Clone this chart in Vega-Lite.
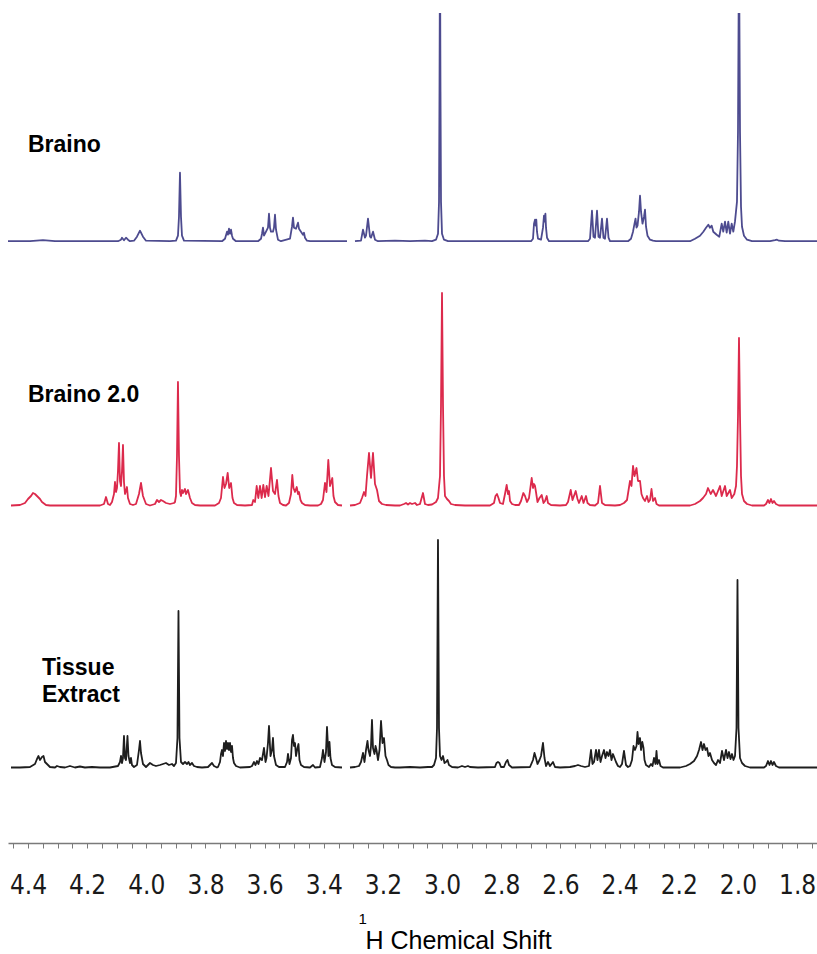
{
"$schema": "https://vega.github.io/schema/vega-lite/v6.json",
"padding": {"left": 8, "top": 13, "right": 0, "bottom": 0},
"background": "white",
"spacing": 0,
"bounds": "flush",
"config": {"view": {"stroke": null}, "axis": {"grid": false}},
"datasets": {
"braino": [
{"seg":"a","ppm":4.4677,"i":0.5},{"seg":"a","ppm":4.3933,"i":0.5},{"seg":"a","ppm":4.3494,"i":1.5},{"seg":"a","ppm":4.3088,"i":0.5},{"seg":"a","ppm":4.1566,"i":0.5},{"seg":"a","ppm":4.0958,"i":0.5},{"seg":"a","ppm":4.0856,"i":2},{"seg":"a","ppm":4.0822,"i":4},{"seg":"a","ppm":4.0755,"i":1.5},{"seg":"a","ppm":4.0687,"i":4},{"seg":"a","ppm":4.062,"i":2},{"seg":"a","ppm":4.0552,"i":0.5},{"seg":"a","ppm":4.0417,"i":1},{"seg":"a","ppm":4.0316,"i":5},{"seg":"a","ppm":4.0214,"i":11},{"seg":"a","ppm":4.0113,"i":5},{"seg":"a","ppm":4.0011,"i":1},{"seg":"a","ppm":3.92,"i":0.5},{"seg":"a","ppm":3.8997,"i":1},{"seg":"a","ppm":3.893,"i":6},{"seg":"a","ppm":3.8896,"i":25},{"seg":"a","ppm":3.8862,"i":69},{"seg":"a","ppm":3.8828,"i":25},{"seg":"a","ppm":3.8794,"i":6},{"seg":"a","ppm":3.8727,"i":1},
{"seg":"a","ppm":3.7441,"i":0.5},{"seg":"a","ppm":3.734,"i":3},{"seg":"a","ppm":3.7272,"i":10},{"seg":"a","ppm":3.7239,"i":7},{"seg":"a","ppm":3.7205,"i":13},{"seg":"a","ppm":3.7171,"i":8},{"seg":"a","ppm":3.7137,"i":12},{"seg":"a","ppm":3.7103,"i":6},{"seg":"a","ppm":3.707,"i":3},{"seg":"a","ppm":3.6968,"i":0.5},
{"seg":"a","ppm":3.6225,"i":0.5},{"seg":"a","ppm":3.6123,"i":3},{"seg":"a","ppm":3.6089,"i":8},{"seg":"a","ppm":3.6056,"i":14},{"seg":"a","ppm":3.6022,"i":6},{"seg":"a","ppm":3.5954,"i":10},{"seg":"a","ppm":3.5887,"i":14},{"seg":"a","ppm":3.5853,"i":28},{"seg":"a","ppm":3.5819,"i":14},{"seg":"a","ppm":3.5785,"i":10},{"seg":"a","ppm":3.5718,"i":10},{"seg":"a","ppm":3.5684,"i":14},{"seg":"a","ppm":3.565,"i":27},{"seg":"a","ppm":3.5616,"i":12},{"seg":"a","ppm":3.5549,"i":2},{"seg":"a","ppm":3.5447,"i":0.5},
{"seg":"a","ppm":3.5143,"i":3},{"seg":"a","ppm":3.5075,"i":15},{"seg":"a","ppm":3.5042,"i":24},{"seg":"a","ppm":3.5008,"i":14},{"seg":"a","ppm":3.494,"i":13},{"seg":"a","ppm":3.4872,"i":19},{"seg":"a","ppm":3.4839,"i":13},{"seg":"a","ppm":3.4771,"i":10},{"seg":"a","ppm":3.4704,"i":7},{"seg":"a","ppm":3.467,"i":9},{"seg":"a","ppm":3.4636,"i":4},{"seg":"a","ppm":3.4568,"i":1},{"seg":"a","ppm":3.4467,"i":0.5},{"seg":"a","ppm":3.4129,"i":0.5},{"seg":"a","ppm":3.3216,"i":0.5},
{"seg":"b","ppm":3.2946,"i":0.5},{"seg":"b","ppm":3.2743,"i":1},{"seg":"b","ppm":3.2675,"i":12},{"seg":"b","ppm":3.2607,"i":4},{"seg":"b","ppm":3.2573,"i":6},{"seg":"b","ppm":3.2506,"i":23},{"seg":"b","ppm":3.2438,"i":5},{"seg":"b","ppm":3.2404,"i":4},{"seg":"b","ppm":3.2336,"i":10},{"seg":"b","ppm":3.2269,"i":2},{"seg":"b","ppm":3.2168,"i":0.5},{"seg":"b","ppm":3.1593,"i":1},{"seg":"b","ppm":3.1086,"i":0.5},{"seg":"b","ppm":3.0579,"i":1},{"seg":"b","ppm":3.0342,"i":0.5},{"seg":"b","ppm":3.0207,"i":2},{"seg":"b","ppm":3.0139,"i":8},{"seg":"b","ppm":3.0105,"i":40},{"seg":"b","ppm":3.0089,"i":150},{"seg":"b","ppm":3.0072,"i":300},{"seg":"b","ppm":3.0055,"i":150},{"seg":"b","ppm":3.0038,"i":40},{"seg":"b","ppm":3.0004,"i":8},{"seg":"b","ppm":2.9937,"i":2},{"seg":"b","ppm":2.9801,"i":0.5},{"seg":"b","ppm":2.9058,"i":0.5},{"seg":"b","ppm":2.8044,"i":0.5},{"seg":"b","ppm":2.7198,"i":0.5},
{"seg":"b","ppm":2.6995,"i":0.5},{"seg":"b","ppm":2.6928,"i":3},{"seg":"b","ppm":2.6894,"i":18},{"seg":"b","ppm":2.686,"i":22},{"seg":"b","ppm":2.6836,"i":16},{"seg":"b","ppm":2.6816,"i":22},{"seg":"b","ppm":2.6793,"i":10},{"seg":"b","ppm":2.6759,"i":3},{"seg":"b","ppm":2.6657,"i":2},{"seg":"b","ppm":2.659,"i":14},{"seg":"b","ppm":2.6556,"i":26},{"seg":"b","ppm":2.6532,"i":20},{"seg":"b","ppm":2.6508,"i":28},{"seg":"b","ppm":2.6488,"i":14},{"seg":"b","ppm":2.6454,"i":4},{"seg":"b","ppm":2.6386,"i":0.5},
{"seg":"b","ppm":2.5069,"i":0.5},{"seg":"b","ppm":2.5001,"i":3},{"seg":"b","ppm":2.4934,"i":31},{"seg":"b","ppm":2.4883,"i":5},{"seg":"b","ppm":2.4832,"i":4},{"seg":"b","ppm":2.4764,"i":31},{"seg":"b","ppm":2.4714,"i":5},{"seg":"b","ppm":2.4663,"i":4},{"seg":"b","ppm":2.4595,"i":23},{"seg":"b","ppm":2.4545,"i":4},{"seg":"b","ppm":2.4494,"i":3},{"seg":"b","ppm":2.4426,"i":23},{"seg":"b","ppm":2.4375,"i":4},{"seg":"b","ppm":2.4325,"i":0.5},
{"seg":"b","ppm":2.3716,"i":0.5},{"seg":"b","ppm":2.3615,"i":3},{"seg":"b","ppm":2.3547,"i":10},{"seg":"b","ppm":2.3496,"i":18},{"seg":"b","ppm":2.3462,"i":23},{"seg":"b","ppm":2.3428,"i":14},{"seg":"b","ppm":2.3394,"i":16},{"seg":"b","ppm":2.3344,"i":30},{"seg":"b","ppm":2.331,"i":46},{"seg":"b","ppm":2.3276,"i":30},{"seg":"b","ppm":2.3226,"i":18},{"seg":"b","ppm":2.3175,"i":25},{"seg":"b","ppm":2.3141,"i":32},{"seg":"b","ppm":2.3107,"i":15},{"seg":"b","ppm":2.3057,"i":6},{"seg":"b","ppm":2.2972,"i":2},{"seg":"b","ppm":2.2871,"i":1},{"seg":"b","ppm":2.277,"i":0.5},
{"seg":"b","ppm":2.162,"i":0.5},{"seg":"b","ppm":2.1451,"i":3},{"seg":"b","ppm":2.1282,"i":6},{"seg":"b","ppm":2.117,"i":10},{"seg":"b","ppm":2.1079,"i":14},{"seg":"b","ppm":2.1001,"i":17},{"seg":"b","ppm":2.0944,"i":14},{"seg":"b","ppm":2.0887,"i":16},{"seg":"b","ppm":2.0833,"i":10},{"seg":"b","ppm":2.0718,"i":7},{"seg":"b","ppm":2.063,"i":5},{"seg":"b","ppm":2.0549,"i":18},{"seg":"b","ppm":2.0495,"i":10},{"seg":"b","ppm":2.0437,"i":20},{"seg":"b","ppm":2.038,"i":9},{"seg":"b","ppm":2.0326,"i":20},{"seg":"b","ppm":2.0268,"i":8},{"seg":"b","ppm":2.0211,"i":18},{"seg":"b","ppm":2.0156,"i":10},{"seg":"b","ppm":2.01,"i":20},{"seg":"b","ppm":2.0032,"i":40},{"seg":"b","ppm":1.9998,"i":110},{"seg":"b","ppm":1.9964,"i":300},{"seg":"b","ppm":1.993,"i":110},{"seg":"b","ppm":1.9896,"i":35},{"seg":"b","ppm":1.9862,"i":15},{"seg":"b","ppm":1.9795,"i":6},{"seg":"b","ppm":1.9693,"i":2},{"seg":"b","ppm":1.9524,"i":0.5},{"seg":"b","ppm":1.8916,"i":0.5},{"seg":"b","ppm":1.8747,"i":1.5},{"seg":"b","ppm":1.8679,"i":2},{"seg":"b","ppm":1.8612,"i":1},{"seg":"b","ppm":1.8409,"i":0.5},{"seg":"b","ppm":1.7327,"i":0.5}
],
"braino2": [
{"seg":"a","ppm":4.4575,"i":0.5},{"seg":"a","ppm":4.4271,"i":1},{"seg":"a","ppm":4.4102,"i":3},{"seg":"a","ppm":4.4,"i":7},{"seg":"a","ppm":4.3899,"i":10},{"seg":"a","ppm":4.3831,"i":13},{"seg":"a","ppm":4.3764,"i":12},{"seg":"a","ppm":4.3696,"i":10},{"seg":"a","ppm":4.3595,"i":7},{"seg":"a","ppm":4.3527,"i":4},{"seg":"a","ppm":4.3392,"i":1},{"seg":"a","ppm":4.3257,"i":0.5},{"seg":"a","ppm":4.1566,"i":0.5},{"seg":"a","ppm":4.1431,"i":2},{"seg":"a","ppm":4.1363,"i":9},{"seg":"a","ppm":4.1296,"i":2},{"seg":"a","ppm":4.1228,"i":1},{"seg":"a","ppm":4.1161,"i":4},{"seg":"a","ppm":4.1093,"i":12},{"seg":"a","ppm":4.1059,"i":24},{"seg":"a","ppm":4.1025,"i":14},{"seg":"a","ppm":4.0991,"i":18},{"seg":"a","ppm":4.0958,"i":35},{"seg":"a","ppm":4.0924,"i":63},{"seg":"a","ppm":4.089,"i":25},{"seg":"a","ppm":4.0856,"i":20},{"seg":"a","ppm":4.0822,"i":35},{"seg":"a","ppm":4.0789,"i":61},{"seg":"a","ppm":4.0755,"i":24},{"seg":"a","ppm":4.0721,"i":12},{"seg":"a","ppm":4.0687,"i":15},{"seg":"a","ppm":4.0654,"i":19},{"seg":"a","ppm":4.062,"i":8},{"seg":"a","ppm":4.0552,"i":2},{"seg":"a","ppm":4.0451,"i":1},{"seg":"a","ppm":4.0349,"i":2},{"seg":"a","ppm":4.0248,"i":12},{"seg":"a","ppm":4.018,"i":23},{"seg":"a","ppm":4.0113,"i":10},{"seg":"a","ppm":4.0011,"i":2},{"seg":"a","ppm":3.9876,"i":0.5},{"seg":"a","ppm":3.9707,"i":2},{"seg":"a","ppm":3.9639,"i":6},{"seg":"a","ppm":3.9572,"i":4},{"seg":"a","ppm":3.9504,"i":6},{"seg":"a","ppm":3.9437,"i":5},{"seg":"a","ppm":3.9335,"i":3},{"seg":"a","ppm":3.92,"i":2},{"seg":"a","ppm":3.9065,"i":3},{"seg":"a","ppm":3.9031,"i":4},{"seg":"a","ppm":3.8997,"i":10},{"seg":"a","ppm":3.8963,"i":50},{"seg":"a","ppm":3.893,"i":124},{"seg":"a","ppm":3.8896,"i":50},{"seg":"a","ppm":3.8862,"i":14},{"seg":"a","ppm":3.8828,"i":10},{"seg":"a","ppm":3.8794,"i":16},{"seg":"a","ppm":3.876,"i":13},{"seg":"a","ppm":3.8693,"i":17},{"seg":"a","ppm":3.8659,"i":12},{"seg":"a","ppm":3.8591,"i":16},{"seg":"a","ppm":3.8524,"i":8},{"seg":"a","ppm":3.8456,"i":3},{"seg":"a","ppm":3.8355,"i":1},{"seg":"a","ppm":3.8186,"i":0.5},
{"seg":"a","ppm":3.7679,"i":0.5},{"seg":"a","ppm":3.7543,"i":3},{"seg":"a","ppm":3.7476,"i":8},{"seg":"a","ppm":3.7408,"i":29},{"seg":"a","ppm":3.7358,"i":18},{"seg":"a","ppm":3.7307,"i":22},{"seg":"a","ppm":3.7249,"i":33},{"seg":"a","ppm":3.7198,"i":18},{"seg":"a","ppm":3.7137,"i":23},{"seg":"a","ppm":3.7087,"i":8},{"seg":"a","ppm":3.7036,"i":3},{"seg":"a","ppm":3.6934,"i":1},{"seg":"a","ppm":3.6664,"i":0.5},
{"seg":"a","ppm":3.6428,"i":1},{"seg":"a","ppm":3.6384,"i":6},{"seg":"a","ppm":3.6326,"i":4},{"seg":"a","ppm":3.6269,"i":20},{"seg":"a","ppm":3.6215,"i":8},{"seg":"a","ppm":3.6157,"i":20},{"seg":"a","ppm":3.61,"i":8},{"seg":"a","ppm":3.6046,"i":21},{"seg":"a","ppm":3.5988,"i":9},{"seg":"a","ppm":3.5931,"i":20},{"seg":"a","ppm":3.587,"i":10},{"seg":"a","ppm":3.5785,"i":38},{"seg":"a","ppm":3.5718,"i":15},{"seg":"a","ppm":3.565,"i":12},{"seg":"a","ppm":3.5582,"i":26},{"seg":"a","ppm":3.5532,"i":10},{"seg":"a","ppm":3.5481,"i":3},{"seg":"a","ppm":3.538,"i":1},{"seg":"a","ppm":3.5278,"i":0.5},
{"seg":"a","ppm":3.5177,"i":3},{"seg":"a","ppm":3.5109,"i":12},{"seg":"a","ppm":3.5065,"i":31},{"seg":"a","ppm":3.5025,"i":18},{"seg":"a","ppm":3.4974,"i":14},{"seg":"a","ppm":3.4916,"i":19},{"seg":"a","ppm":3.4872,"i":12},{"seg":"a","ppm":3.4839,"i":14},{"seg":"a","ppm":3.4788,"i":6},{"seg":"a","ppm":3.4737,"i":3},{"seg":"a","ppm":3.4636,"i":1},{"seg":"a","ppm":3.4467,"i":0.5},{"seg":"a","ppm":3.4197,"i":0.5},{"seg":"a","ppm":3.4095,"i":2},{"seg":"a","ppm":3.4028,"i":6},{"seg":"a","ppm":3.396,"i":23},{"seg":"a","ppm":3.3909,"i":14},{"seg":"a","ppm":3.3848,"i":46},{"seg":"a","ppm":3.3791,"i":20},{"seg":"a","ppm":3.3713,"i":28},{"seg":"a","ppm":3.3673,"i":10},{"seg":"a","ppm":3.3622,"i":4},{"seg":"a","ppm":3.352,"i":1},{"seg":"a","ppm":3.3385,"i":0.5},
{"seg":"b","ppm":3.3115,"i":0.5},{"seg":"b","ppm":3.2946,"i":1},{"seg":"b","ppm":3.2776,"i":3},{"seg":"b","ppm":3.2709,"i":8},{"seg":"b","ppm":3.2641,"i":14},{"seg":"b","ppm":3.259,"i":10},{"seg":"b","ppm":3.254,"i":30},{"seg":"b","ppm":3.2472,"i":53},{"seg":"b","ppm":3.2404,"i":28},{"seg":"b","ppm":3.2337,"i":53},{"seg":"b","ppm":3.2269,"i":22},{"seg":"b","ppm":3.2201,"i":16},{"seg":"b","ppm":3.2134,"i":5},{"seg":"b","ppm":3.2032,"i":2},{"seg":"b","ppm":3.1897,"i":1},{"seg":"b","ppm":3.1593,"i":0.5},{"seg":"b","ppm":3.1424,"i":0.5},{"seg":"b","ppm":3.1289,"i":2},{"seg":"b","ppm":3.1221,"i":3},{"seg":"b","ppm":3.1154,"i":1.5},{"seg":"b","ppm":3.1086,"i":3},{"seg":"b","ppm":3.1018,"i":2},{"seg":"b","ppm":3.0917,"i":3},{"seg":"b","ppm":3.0849,"i":1},{"seg":"b","ppm":3.0748,"i":2},{"seg":"b","ppm":3.0647,"i":13},{"seg":"b","ppm":3.0579,"i":2},{"seg":"b","ppm":3.0478,"i":1},{"seg":"b","ppm":3.0342,"i":1.5},{"seg":"b","ppm":3.0207,"i":4},{"seg":"b","ppm":3.014,"i":8},{"seg":"b","ppm":3.0072,"i":30},{"seg":"b","ppm":3.0038,"i":100},{"seg":"b","ppm":3.0004,"i":213},{"seg":"b","ppm":2.997,"i":100},{"seg":"b","ppm":2.9937,"i":30},{"seg":"b","ppm":2.9903,"i":10},{"seg":"b","ppm":2.9835,"i":7},{"seg":"b","ppm":2.9768,"i":5},{"seg":"b","ppm":2.97,"i":2},{"seg":"b","ppm":2.9565,"i":1},{"seg":"b","ppm":2.9227,"i":0.5},
{"seg":"b","ppm":2.8382,"i":0.5},{"seg":"b","ppm":2.8247,"i":3},{"seg":"b","ppm":2.8196,"i":10},{"seg":"b","ppm":2.8145,"i":12},{"seg":"b","ppm":2.8095,"i":8},{"seg":"b","ppm":2.8044,"i":3},{"seg":"b","ppm":2.7943,"i":2},{"seg":"b","ppm":2.7875,"i":12},{"seg":"b","ppm":2.7818,"i":21},{"seg":"b","ppm":2.7773,"i":12},{"seg":"b","ppm":2.7739,"i":15},{"seg":"b","ppm":2.7705,"i":5},{"seg":"b","ppm":2.7638,"i":2},{"seg":"b","ppm":2.7536,"i":1},{"seg":"b","ppm":2.7401,"i":1},{"seg":"b","ppm":2.7333,"i":5},{"seg":"b","ppm":2.7255,"i":13},{"seg":"b","ppm":2.7198,"i":10},{"seg":"b","ppm":2.7131,"i":4},{"seg":"b","ppm":2.7063,"i":8},{"seg":"b","ppm":2.6972,"i":28},{"seg":"b","ppm":2.6928,"i":18},{"seg":"b","ppm":2.6894,"i":22},{"seg":"b","ppm":2.686,"i":20},{"seg":"b","ppm":2.6827,"i":14},{"seg":"b","ppm":2.6776,"i":4},{"seg":"b","ppm":2.6708,"i":8},{"seg":"b","ppm":2.6634,"i":11},{"seg":"b","ppm":2.6573,"i":3},{"seg":"b","ppm":2.6522,"i":5},{"seg":"b","ppm":2.6465,"i":10},{"seg":"b","ppm":2.6421,"i":3},{"seg":"b","ppm":2.632,"i":1},{"seg":"b","ppm":2.6015,"i":0.5},
{"seg":"b","ppm":2.5812,"i":1},{"seg":"b","ppm":2.5745,"i":4},{"seg":"b","ppm":2.5653,"i":16},{"seg":"b","ppm":2.5592,"i":6},{"seg":"b","ppm":2.5484,"i":15},{"seg":"b","ppm":2.5423,"i":7},{"seg":"b","ppm":2.5373,"i":3},{"seg":"b","ppm":2.5281,"i":10},{"seg":"b","ppm":2.522,"i":3},{"seg":"b","ppm":2.5136,"i":10},{"seg":"b","ppm":2.5085,"i":3},{"seg":"b","ppm":2.5001,"i":1},{"seg":"b","ppm":2.4832,"i":0.5},{"seg":"b","ppm":2.4731,"i":3},{"seg":"b","ppm":2.4663,"i":20},{"seg":"b","ppm":2.4595,"i":3},{"seg":"b","ppm":2.4494,"i":1},{"seg":"b","ppm":2.4156,"i":0.5},{"seg":"b","ppm":2.3987,"i":1},{"seg":"b","ppm":2.3852,"i":3},{"seg":"b","ppm":2.375,"i":6},{"seg":"b","ppm":2.3649,"i":25},{"seg":"b","ppm":2.3598,"i":20},{"seg":"b","ppm":2.3547,"i":40},{"seg":"b","ppm":2.3496,"i":30},{"seg":"b","ppm":2.3429,"i":38},{"seg":"b","ppm":2.3378,"i":25},{"seg":"b","ppm":2.331,"i":25},{"seg":"b","ppm":2.326,"i":12},{"seg":"b","ppm":2.3209,"i":8},{"seg":"b","ppm":2.3141,"i":5},{"seg":"b","ppm":2.3074,"i":10},{"seg":"b","ppm":2.3023,"i":4},{"seg":"b","ppm":2.2972,"i":6},{"seg":"b","ppm":2.2922,"i":17},{"seg":"b","ppm":2.2871,"i":5},{"seg":"b","ppm":2.2803,"i":8},{"seg":"b","ppm":2.2752,"i":2},{"seg":"b","ppm":2.2668,"i":0.5},
{"seg":"b","ppm":2.162,"i":0.5},{"seg":"b","ppm":2.1451,"i":2},{"seg":"b","ppm":2.1282,"i":5},{"seg":"b","ppm":2.1181,"i":8},{"seg":"b","ppm":2.1079,"i":12},{"seg":"b","ppm":2.1012,"i":18},{"seg":"b","ppm":2.092,"i":12},{"seg":"b","ppm":2.0843,"i":16},{"seg":"b","ppm":2.0741,"i":10},{"seg":"b","ppm":2.0606,"i":20},{"seg":"b","ppm":2.0549,"i":10},{"seg":"b","ppm":2.0437,"i":20},{"seg":"b","ppm":2.038,"i":10},{"seg":"b","ppm":2.0268,"i":16},{"seg":"b","ppm":2.0211,"i":8},{"seg":"b","ppm":2.0123,"i":12},{"seg":"b","ppm":2.0065,"i":20},{"seg":"b","ppm":2.0032,"i":40},{"seg":"b","ppm":1.9998,"i":90},{"seg":"b","ppm":1.9964,"i":168},{"seg":"b","ppm":1.993,"i":90},{"seg":"b","ppm":1.9896,"i":30},{"seg":"b","ppm":1.9862,"i":12},{"seg":"b","ppm":1.9795,"i":5},{"seg":"b","ppm":1.9693,"i":2},{"seg":"b","ppm":1.9524,"i":0.5},{"seg":"b","ppm":1.9119,"i":0.5},{"seg":"b","ppm":1.9051,"i":2},{"seg":"b","ppm":1.8984,"i":6},{"seg":"b","ppm":1.8933,"i":3},{"seg":"b","ppm":1.8882,"i":7},{"seg":"b","ppm":1.8832,"i":3},{"seg":"b","ppm":1.8781,"i":5},{"seg":"b","ppm":1.8714,"i":2},{"seg":"b","ppm":1.8612,"i":0.5},{"seg":"b","ppm":1.7327,"i":0.5}
],
"tissue": [
{"seg":"a","ppm":4.4575,"i":0.5},{"seg":"a","ppm":4.4271,"i":0.5},{"seg":"a","ppm":4.3933,"i":1},{"seg":"a","ppm":4.3764,"i":4},{"seg":"a","ppm":4.3696,"i":9},{"seg":"a","ppm":4.3645,"i":12},{"seg":"a","ppm":4.3595,"i":8},{"seg":"a","ppm":4.3527,"i":11},{"seg":"a","ppm":4.3476,"i":12},{"seg":"a","ppm":4.3426,"i":6},{"seg":"a","ppm":4.3358,"i":4},{"seg":"a","ppm":4.3257,"i":1},{"seg":"a","ppm":4.3088,"i":0.5},{"seg":"a","ppm":4.302,"i":2},{"seg":"a","ppm":4.2919,"i":1},{"seg":"a","ppm":4.275,"i":0.5},{"seg":"a","ppm":4.2581,"i":2},{"seg":"a","ppm":4.2412,"i":0.5},{"seg":"a","ppm":4.2243,"i":1.5},{"seg":"a","ppm":4.2074,"i":0.5},{"seg":"a","ppm":4.1837,"i":1},{"seg":"a","ppm":4.1566,"i":0.5},{"seg":"a","ppm":4.1228,"i":0.5},{"seg":"a","ppm":4.0958,"i":2},{"seg":"a","ppm":4.089,"i":6},{"seg":"a","ppm":4.0856,"i":12},{"seg":"a","ppm":4.0822,"i":5},{"seg":"a","ppm":4.0789,"i":10},{"seg":"a","ppm":4.0755,"i":32},{"seg":"a","ppm":4.0721,"i":10},{"seg":"a","ppm":4.0687,"i":8},{"seg":"a","ppm":4.0637,"i":32},{"seg":"a","ppm":4.0603,"i":12},{"seg":"a","ppm":4.0552,"i":5},{"seg":"a","ppm":4.0518,"i":10},{"seg":"a","ppm":4.0485,"i":3},{"seg":"a","ppm":4.0417,"i":1},{"seg":"a","ppm":4.0316,"i":3},{"seg":"a","ppm":4.0248,"i":18},{"seg":"a","ppm":4.0214,"i":27},{"seg":"a","ppm":4.018,"i":15},{"seg":"a","ppm":4.0113,"i":4},{"seg":"a","ppm":4.0011,"i":1},{"seg":"a","ppm":3.9876,"i":5},{"seg":"a","ppm":3.9775,"i":3},{"seg":"a","ppm":3.9673,"i":2},{"seg":"a","ppm":3.9538,"i":3},{"seg":"a","ppm":3.9437,"i":4},{"seg":"a","ppm":3.9335,"i":5},{"seg":"a","ppm":3.9234,"i":3},{"seg":"a","ppm":3.9133,"i":4},{"seg":"a","ppm":3.9065,"i":2},{"seg":"a","ppm":3.8997,"i":5},{"seg":"a","ppm":3.8947,"i":30},{"seg":"a","ppm":3.8913,"i":157},{"seg":"a","ppm":3.8879,"i":30},{"seg":"a","ppm":3.8828,"i":6},{"seg":"a","ppm":3.876,"i":4},{"seg":"a","ppm":3.8693,"i":6},{"seg":"a","ppm":3.8625,"i":4},{"seg":"a","ppm":3.8575,"i":6},{"seg":"a","ppm":3.8524,"i":3},{"seg":"a","ppm":3.8456,"i":5},{"seg":"a","ppm":3.8389,"i":2},{"seg":"a","ppm":3.8287,"i":1},{"seg":"a","ppm":3.8118,"i":0.5},{"seg":"a","ppm":3.7915,"i":1},{"seg":"a","ppm":3.7848,"i":3},{"seg":"a","ppm":3.778,"i":5},{"seg":"a","ppm":3.7712,"i":2},{"seg":"a","ppm":3.7611,"i":0.5},
{"seg":"a","ppm":3.7577,"i":1},{"seg":"a","ppm":3.7509,"i":6},{"seg":"a","ppm":3.7475,"i":14},{"seg":"a","ppm":3.7442,"i":18},{"seg":"a","ppm":3.7408,"i":12},{"seg":"a","ppm":3.7374,"i":25},{"seg":"a","ppm":3.734,"i":17},{"seg":"a","ppm":3.7306,"i":27},{"seg":"a","ppm":3.7273,"i":19},{"seg":"a","ppm":3.7239,"i":25},{"seg":"a","ppm":3.7205,"i":18},{"seg":"a","ppm":3.7171,"i":25},{"seg":"a","ppm":3.7137,"i":16},{"seg":"a","ppm":3.7103,"i":22},{"seg":"a","ppm":3.707,"i":10},{"seg":"a","ppm":3.7036,"i":5},{"seg":"a","ppm":3.6968,"i":2},{"seg":"a","ppm":3.6833,"i":0.5},
{"seg":"a","ppm":3.6495,"i":1},{"seg":"a","ppm":3.6428,"i":2},{"seg":"a","ppm":3.636,"i":6},{"seg":"a","ppm":3.6309,"i":3},{"seg":"a","ppm":3.6259,"i":7},{"seg":"a","ppm":3.6208,"i":4},{"seg":"a","ppm":3.6157,"i":10},{"seg":"a","ppm":3.609,"i":8},{"seg":"a","ppm":3.6022,"i":20},{"seg":"a","ppm":3.5971,"i":6},{"seg":"a","ppm":3.5937,"i":10},{"seg":"a","ppm":3.5887,"i":25},{"seg":"a","ppm":3.5853,"i":42},{"seg":"a","ppm":3.5802,"i":12},{"seg":"a","ppm":3.5752,"i":18},{"seg":"a","ppm":3.5718,"i":30},{"seg":"a","ppm":3.5684,"i":12},{"seg":"a","ppm":3.5616,"i":3},{"seg":"a","ppm":3.5515,"i":1},{"seg":"a","ppm":3.5312,"i":1},{"seg":"a","ppm":3.5244,"i":6},{"seg":"a","ppm":3.5211,"i":14},{"seg":"a","ppm":3.516,"i":4},{"seg":"a","ppm":3.5109,"i":10},{"seg":"a","ppm":3.5075,"i":28},{"seg":"a","ppm":3.5042,"i":33},{"seg":"a","ppm":3.5008,"i":22},{"seg":"a","ppm":3.4974,"i":25},{"seg":"a","ppm":3.494,"i":12},{"seg":"a","ppm":3.489,"i":20},{"seg":"a","ppm":3.4856,"i":24},{"seg":"a","ppm":3.4822,"i":8},{"seg":"a","ppm":3.4771,"i":3},{"seg":"a","ppm":3.467,"i":1},{"seg":"a","ppm":3.4467,"i":0.5},{"seg":"a","ppm":3.4365,"i":3},{"seg":"a","ppm":3.4298,"i":0.5},{"seg":"a","ppm":3.4129,"i":1},{"seg":"a","ppm":3.4061,"i":10},{"seg":"a","ppm":3.4028,"i":18},{"seg":"a","ppm":3.3977,"i":6},{"seg":"a","ppm":3.3926,"i":16},{"seg":"a","ppm":3.3892,"i":41},{"seg":"a","ppm":3.3842,"i":12},{"seg":"a","ppm":3.3808,"i":26},{"seg":"a","ppm":3.3774,"i":10},{"seg":"a","ppm":3.3723,"i":3},{"seg":"a","ppm":3.3622,"i":1},{"seg":"a","ppm":3.3385,"i":0.5},
{"seg":"b","ppm":3.3115,"i":0.5},{"seg":"b","ppm":3.2946,"i":1},{"seg":"b","ppm":3.281,"i":2},{"seg":"b","ppm":3.2743,"i":6},{"seg":"b","ppm":3.2675,"i":15},{"seg":"b","ppm":3.2624,"i":6},{"seg":"b","ppm":3.2573,"i":18},{"seg":"b","ppm":3.2523,"i":27},{"seg":"b","ppm":3.2489,"i":18},{"seg":"b","ppm":3.2438,"i":12},{"seg":"b","ppm":3.2404,"i":22},{"seg":"b","ppm":3.2371,"i":48},{"seg":"b","ppm":3.2337,"i":20},{"seg":"b","ppm":3.2286,"i":14},{"seg":"b","ppm":3.2252,"i":22},{"seg":"b","ppm":3.2219,"i":18},{"seg":"b","ppm":3.2168,"i":8},{"seg":"b","ppm":3.2117,"i":18},{"seg":"b","ppm":3.2066,"i":47},{"seg":"b","ppm":3.2016,"i":25},{"seg":"b","ppm":3.1965,"i":30},{"seg":"b","ppm":3.1914,"i":12},{"seg":"b","ppm":3.1864,"i":8},{"seg":"b","ppm":3.1813,"i":3},{"seg":"b","ppm":3.1728,"i":1},{"seg":"b","ppm":3.1593,"i":0.5},{"seg":"b","ppm":3.1424,"i":0.5},{"seg":"b","ppm":3.1086,"i":1},{"seg":"b","ppm":3.0748,"i":0.5},{"seg":"b","ppm":3.0478,"i":1},{"seg":"b","ppm":3.0342,"i":1},{"seg":"b","ppm":3.0275,"i":3},{"seg":"b","ppm":3.0207,"i":10},{"seg":"b","ppm":3.0173,"i":40},{"seg":"b","ppm":3.014,"i":228},{"seg":"b","ppm":3.0106,"i":40},{"seg":"b","ppm":3.0072,"i":12},{"seg":"b","ppm":3.0021,"i":8},{"seg":"b","ppm":2.997,"i":12},{"seg":"b","ppm":2.992,"i":5},{"seg":"b","ppm":2.9869,"i":6},{"seg":"b","ppm":2.9818,"i":8},{"seg":"b","ppm":2.9768,"i":3},{"seg":"b","ppm":2.9666,"i":1},{"seg":"b","ppm":2.9464,"i":0.5},{"seg":"b","ppm":2.9329,"i":2},{"seg":"b","ppm":2.9227,"i":1},{"seg":"b","ppm":2.9126,"i":2},{"seg":"b","ppm":2.9058,"i":1},{"seg":"b","ppm":2.8788,"i":0.5},
{"seg":"b","ppm":2.8213,"i":1},{"seg":"b","ppm":2.8163,"i":5},{"seg":"b","ppm":2.8112,"i":6},{"seg":"b","ppm":2.8061,"i":5},{"seg":"b","ppm":2.801,"i":1},{"seg":"b","ppm":2.7909,"i":1},{"seg":"b","ppm":2.7841,"i":6},{"seg":"b","ppm":2.779,"i":8},{"seg":"b","ppm":2.7739,"i":3},{"seg":"b","ppm":2.7638,"i":0.5},{"seg":"b","ppm":2.7029,"i":1},{"seg":"b","ppm":2.6928,"i":8},{"seg":"b","ppm":2.6877,"i":15},{"seg":"b","ppm":2.6827,"i":10},{"seg":"b","ppm":2.6776,"i":4},{"seg":"b","ppm":2.6708,"i":8},{"seg":"b","ppm":2.6657,"i":12},{"seg":"b","ppm":2.659,"i":25},{"seg":"b","ppm":2.6539,"i":10},{"seg":"b","ppm":2.6488,"i":2},{"seg":"b","ppm":2.6421,"i":6},{"seg":"b","ppm":2.6353,"i":2},{"seg":"b","ppm":2.6252,"i":6},{"seg":"b","ppm":2.6184,"i":1},{"seg":"b","ppm":2.6015,"i":0.5},
{"seg":"b","ppm":2.5677,"i":1},{"seg":"b","ppm":2.5508,"i":2},{"seg":"b","ppm":2.5407,"i":3},{"seg":"b","ppm":2.5305,"i":2},{"seg":"b","ppm":2.517,"i":1},{"seg":"b","ppm":2.5035,"i":2},{"seg":"b","ppm":2.4967,"i":18},{"seg":"b","ppm":2.4917,"i":4},{"seg":"b","ppm":2.4866,"i":6},{"seg":"b","ppm":2.4798,"i":18},{"seg":"b","ppm":2.4748,"i":8},{"seg":"b","ppm":2.4697,"i":18},{"seg":"b","ppm":2.4646,"i":6},{"seg":"b","ppm":2.4595,"i":12},{"seg":"b","ppm":2.4528,"i":18},{"seg":"b","ppm":2.4477,"i":10},{"seg":"b","ppm":2.4426,"i":16},{"seg":"b","ppm":2.4376,"i":12},{"seg":"b","ppm":2.4325,"i":18},{"seg":"b","ppm":2.4274,"i":8},{"seg":"b","ppm":2.4224,"i":14},{"seg":"b","ppm":2.4173,"i":10},{"seg":"b","ppm":2.4122,"i":6},{"seg":"b","ppm":2.4055,"i":2},{"seg":"b","ppm":2.3987,"i":1},{"seg":"b","ppm":2.3919,"i":4},{"seg":"b","ppm":2.3852,"i":17},{"seg":"b","ppm":2.3784,"i":3},{"seg":"b","ppm":2.3716,"i":1},{"seg":"b","ppm":2.3649,"i":2},{"seg":"b","ppm":2.3581,"i":8},{"seg":"b","ppm":2.353,"i":22},{"seg":"b","ppm":2.348,"i":18},{"seg":"b","ppm":2.3429,"i":22},{"seg":"b","ppm":2.3395,"i":36},{"seg":"b","ppm":2.3361,"i":24},{"seg":"b","ppm":2.331,"i":30},{"seg":"b","ppm":2.3277,"i":18},{"seg":"b","ppm":2.3233,"i":26},{"seg":"b","ppm":2.3192,"i":20},{"seg":"b","ppm":2.3158,"i":8},{"seg":"b","ppm":2.3108,"i":3},{"seg":"b","ppm":2.3006,"i":1},{"seg":"b","ppm":2.2939,"i":4},{"seg":"b","ppm":2.2888,"i":2},{"seg":"b","ppm":2.2837,"i":10},{"seg":"b","ppm":2.2787,"i":4},{"seg":"b","ppm":2.2753,"i":17},{"seg":"b","ppm":2.2719,"i":4},{"seg":"b","ppm":2.2668,"i":8},{"seg":"b","ppm":2.2618,"i":2},{"seg":"b","ppm":2.2533,"i":0.5},
{"seg":"b","ppm":2.1958,"i":0.5},{"seg":"b","ppm":2.1755,"i":2},{"seg":"b","ppm":2.162,"i":4},{"seg":"b","ppm":2.1485,"i":7},{"seg":"b","ppm":2.1383,"i":12},{"seg":"b","ppm":2.1316,"i":18},{"seg":"b","ppm":2.1248,"i":26},{"seg":"b","ppm":2.1197,"i":18},{"seg":"b","ppm":2.1147,"i":24},{"seg":"b","ppm":2.1096,"i":18},{"seg":"b","ppm":2.1045,"i":20},{"seg":"b","ppm":2.0995,"i":12},{"seg":"b","ppm":2.0944,"i":15},{"seg":"b","ppm":2.0876,"i":8},{"seg":"b","ppm":2.0809,"i":5},{"seg":"b","ppm":2.0741,"i":3},{"seg":"b","ppm":2.0673,"i":8},{"seg":"b","ppm":2.0606,"i":5},{"seg":"b","ppm":2.0538,"i":17},{"seg":"b","ppm":2.0471,"i":8},{"seg":"b","ppm":2.0403,"i":18},{"seg":"b","ppm":2.0352,"i":10},{"seg":"b","ppm":2.0302,"i":16},{"seg":"b","ppm":2.0251,"i":9},{"seg":"b","ppm":2.02,"i":14},{"seg":"b","ppm":2.015,"i":8},{"seg":"b","ppm":2.0099,"i":12},{"seg":"b","ppm":2.0048,"i":40},{"seg":"b","ppm":2.0015,"i":188},{"seg":"b","ppm":1.9981,"i":40},{"seg":"b","ppm":1.993,"i":10},{"seg":"b","ppm":1.9862,"i":5},{"seg":"b","ppm":1.9761,"i":2},{"seg":"b","ppm":1.9592,"i":0.5},{"seg":"b","ppm":1.9119,"i":0.5},{"seg":"b","ppm":1.9051,"i":2},{"seg":"b","ppm":1.8984,"i":7},{"seg":"b","ppm":1.8933,"i":3},{"seg":"b","ppm":1.8882,"i":7},{"seg":"b","ppm":1.8832,"i":3},{"seg":"b","ppm":1.8781,"i":6},{"seg":"b","ppm":1.8714,"i":2},{"seg":"b","ppm":1.8612,"i":0.5},{"seg":"b","ppm":1.7327,"i":0.5}
]
},
"vconcat": [
{
"width": 809, "height": 249,
"layer": [
{"data": {"name": "braino"},
 "mark": {"type": "line", "clip": true, "strokeWidth": 1.8, "color": "#4d4b8f", "strokeJoin": "round"},
 "encoding": {
  "x": {"field": "ppm", "type": "quantitative", "scale": {"domain": [1.7327, 4.4676], "reverse": true, "nice": false, "zero": false}, "axis": null},
  "y": {"field": "i", "type": "quantitative", "scale": {"domain": [-20.3, 228.7], "nice": false, "zero": false}, "axis": null},
  "detail": {"field": "seg"}
 }},
{"data": {"values": [{"label": "Braino", "ppm": 4.4, "i": 90}]},
 "mark": {"type": "text", "align": "left", "baseline": "alphabetic", "font": "Liberation Sans", "fontWeight": "bold", "fontSize": 23, "color": "#000000"},
 "encoding": {
  "x": {"field": "ppm", "type": "quantitative"},
  "y": {"field": "i", "type": "quantitative"},
  "text": {"field": "label"}
 }}
]
},
{
"width": 809, "height": 262,
"layer": [
{"data": {"name": "braino2"},
 "mark": {"type": "line", "clip": true, "strokeWidth": 1.8, "color": "#dc2a4c", "strokeJoin": "round"},
 "encoding": {
  "x": {"field": "ppm", "type": "quantitative", "scale": {"domain": [1.7327, 4.4676], "reverse": true, "nice": false, "zero": false}, "axis": null},
  "y": {"field": "i", "type": "quantitative", "scale": {"domain": [-18, 244], "nice": false, "zero": false}, "axis": null},
  "detail": {"field": "seg"}
 }},
{"data": {"values": [{"label": "Braino 2.0", "ppm": 4.4, "i": 104}]},
 "mark": {"type": "text", "align": "left", "baseline": "alphabetic", "font": "Liberation Sans", "fontWeight": "bold", "fontSize": 23, "color": "#000000"},
 "encoding": {
  "x": {"field": "ppm", "type": "quantitative"},
  "y": {"field": "i", "type": "quantitative"},
  "text": {"field": "label"}
 }}
]
},
{
"width": 809, "height": 319,
"resolve": {"axis": {"x": "independent"}},
"layer": [
{"data": {"name": "tissue"},
 "mark": {"type": "line", "clip": true, "strokeWidth": 1.8, "color": "#1e1e1e", "strokeJoin": "round"},
 "encoding": {
  "x": {"field": "ppm", "type": "quantitative", "scale": {"domain": [1.7327, 4.4676], "reverse": true, "nice": false, "zero": false},
   "axis": {"orient": "bottom", "values": [4.45,4.4,4.35,4.3,4.25,4.2,4.15,4.1,4.05,4.0,3.95,3.9,3.85,3.8,3.75,3.7,3.65,3.6,3.55,3.5,3.45,3.4,3.35,3.3,3.25,3.2,3.15,3.1,3.05,3.0,2.95,2.9,2.85,2.8,2.75,2.7,2.65,2.6,2.55,2.5,2.45,2.4,2.35,2.3,2.25,2.2,2.15,2.1,2.05,2.0,1.95,1.9,1.85,1.8,1.75],
    "labels": false, "tickSize": 5, "tickColor": "#7a7a7a", "tickWidth": 1, "domainColor": "#7a7a7a", "domainWidth": 1.5,
    "title": "1", "titleFont": "Liberation Sans", "titleFontSize": 15, "titleFontWeight": "normal", "titleColor": "#000000",
    "titleX": 350, "titleY": 80, "titleAlign": "left", "titleBaseline": "alphabetic", "titleAnchor": null}},
  "y": {"field": "i", "type": "quantitative", "scale": {"domain": [-75, 244], "nice": false, "zero": false}, "axis": null},
  "detail": {"field": "seg"}
 }},
{"data": {"values": [{"label": "Tissue", "ppm": 4.3527, "i": 93}, {"label": "Extract", "ppm": 4.3527, "i": 66}]},
 "mark": {"type": "text", "align": "left", "baseline": "alphabetic", "font": "Liberation Sans", "fontWeight": "bold", "fontSize": 23, "color": "#000000"},
 "encoding": {
  "x": {"field": "ppm", "type": "quantitative",
   "axis": {"orient": "bottom", "values": [4.4,4.2,4.0,3.8,3.6,3.4,3.2,3.0,2.8,2.6,2.4,2.2,2.0,1.8], "format": ".1f",
    "domain": false, "ticks": false, "labelPadding": 50, "labelBaseline": "alphabetic",
    "labelFont": "Liberation Sans Narrow, DejaVu Sans Condensed, Liberation Sans", "labelFontSize": 26, "labelColor": "#1a1a1a",
    "title": "H Chemical Shift", "titleFont": "Liberation Sans", "titleFontSize": 25, "titleFontWeight": "normal", "titleColor": "#000000",
    "titleX": 357, "titleY": 105, "titleAlign": "left", "titleBaseline": "alphabetic", "titleAnchor": null}},
  "y": {"field": "i", "type": "quantitative"},
  "text": {"field": "label"}
 }}
]
}
]
}
